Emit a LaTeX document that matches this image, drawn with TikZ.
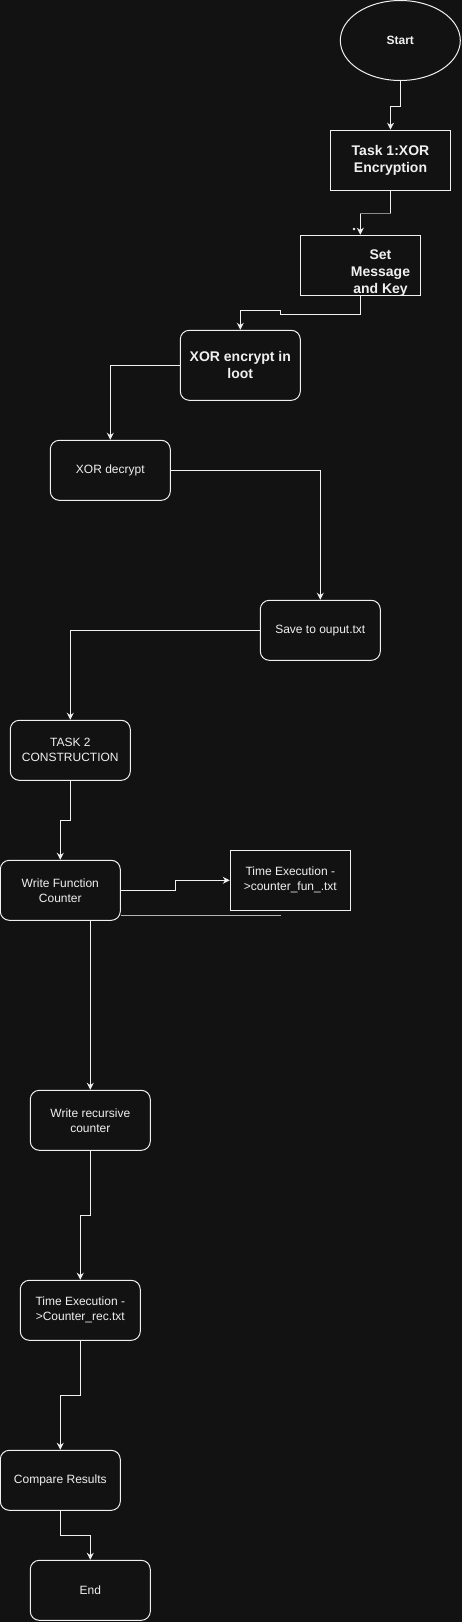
\documentclass[tikz,border=0pt]{standalone}
\usepackage{fontspec}
\setmainfont{Liberation Sans}
\usetikzlibrary{arrows.meta,shapes.geometric}
\definecolor{bgc}{HTML}{121212}
\definecolor{fgc}{HTML}{F0F0F0}
\definecolor{selc}{HTML}{8A8A8A}
\tikzset{
  base/.style={draw=fgc, line width=1pt, text=fgc, inner sep=0pt, align=center,
    minimum width=120pt, minimum height=60pt, font=\fontsize{12pt}{15pt}\selectfont},
  sharpbox/.style={base},
  roundbox/.style={base, rounded corners=9pt},
  boldbig/.style={font=\fontsize{14pt}{17pt}\selectfont\bfseries},
  arr/.style={draw=fgc, line width=1pt, -{Stealth[length=7pt,width=7pt]}},
  ln/.style={draw=fgc, line width=1pt}
}
\begin{document}
\begin{tikzpicture}[x=1pt,y=-1pt]
\fill[bgc] (0,0) rectangle (462,1622);
\useasboundingbox (0,0) rectangle (462,1622);

\node[base, ellipse, minimum width=120pt, minimum height=80pt, font=\fontsize{12pt}{15pt}\selectfont\bfseries] (start) at (400.3,40.5) {Start};
\node[sharpbox, boldbig] (task1) at (390.5,160.2) {Task 1:XOR\\Encryption};
\node[sharpbox] (set) at (360.3,265.2) {};
\node[text=fgc, boldbig, align=center, inner sep=0pt] (settext) at (380.5,273) {Set\\Message\\and Key};
\node[roundbox, boldbig, minimum height=70pt] (enc) at (240.3,365.3) {XOR encrypt in\\loot};
\node[roundbox] (dec) at (110.3,470.3) {XOR decrypt};
\node[roundbox] (save) at (320.3,630.3) {Save to ouput.txt};
\node[roundbox] (task2) at (70.3,750.3) {TASK 2\\CONSTRUCTION};
\node[roundbox] (wf) at (60.3,890.3) {Write Function\\Counter};
\node[sharpbox] (te1) at (290.3,880.3) {Time Execution -\\>counter\_fun\_.txt};
\node[roundbox] (wr) at (90.3,1120.3) {Write recursive\\counter};
\node[roundbox] (ter) at (80.3,1310.3) {Time Execution -\\>Counter\_rec.txt};
\node[roundbox] (cmp) at (60.3,1480.3) {Compare Results};
\node[roundbox] (end) at (90.3,1590.3) {End};

% connectors
\draw[arr] (start.south) -- ([yshift=-25pt]start.south) -| (task1.north);
\draw[arr] (task1.south) -- ([yshift=-22.5pt]task1.south) -| (set.north);
\draw[selc, line width=1pt] ([yshift=-22.5pt]task1.south) -- ([yshift=-22.5pt]task1.south -| set.north);
\fill[fgc] (354,229) circle (1.3pt);
\coordinate (s1) at (280.3,314.7);
\coordinate (s2) at (280.3,310.7);
\draw[arr] (set.south) |- (s1) -- (s2) -| (enc.north);
\draw[arr] (enc.west) -| (dec.north);
\draw[arr] (dec.east) -| (save.north);
\draw[arr] (save.west) -| (task2.north);
\draw[arr] (task2.south) -- ([yshift=-40pt]task2.south) -| (wf.north);
\coordinate (w1) at (175.3,890.3);
\draw[arr] (wf.east) -- (w1) |- (te1.west);
\coordinate (dl) at (281,915.7);
\draw[selc!60!fgc, line width=1pt] ([yshift=-25.4pt]wf.east) -- (dl);
\draw[arr] ([xshift=30pt]wf.south) -- (wr.north);
\draw[arr] (wr.south) -- ([yshift=-65pt]wr.south) -| (ter.north);
\draw[arr] (ter.south) -- ([yshift=-55pt]ter.south) -| (cmp.north);
\draw[arr] (cmp.south) -- ([yshift=-25pt]cmp.south) -| (end.north);
\end{tikzpicture}
\end{document}
